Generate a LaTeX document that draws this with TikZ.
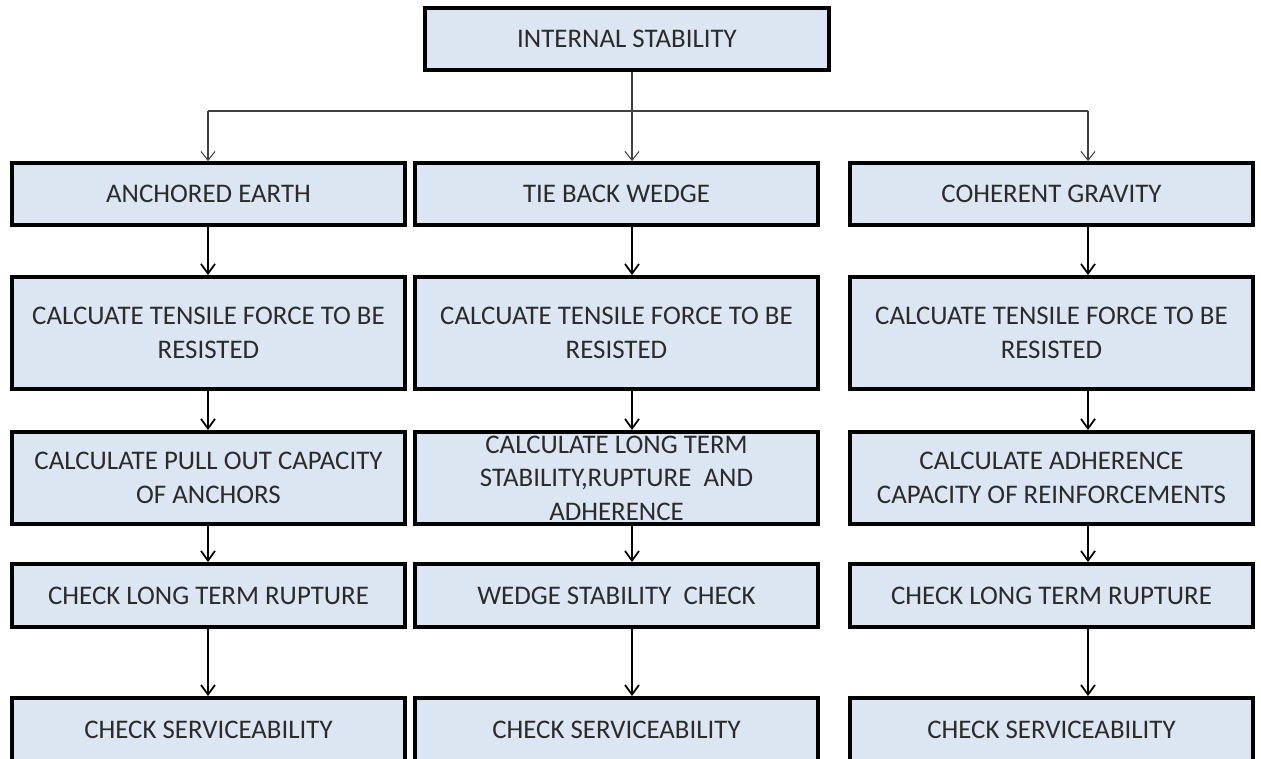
\documentclass[tikz,border=0pt]{standalone}
\usepackage{fontspec}
\setmainfont{Carlito}
\usetikzlibrary{arrows.meta}
\definecolor{boxfill}{HTML}{DCE6F2}
\definecolor{boxtext}{HTML}{2B2B2B}
\tikzstyle{stepbox} = [draw, line width=2.2pt, fill=boxfill, text=boxtext, align=center, inner sep=2pt, font=\fontsize{15.3}{19}\selectfont]
\tikzstyle{flow} = [line width=1pt, -{Straight Barb[length=5.5pt,width=8pt]}]
\tikzstyle{branch} = [line width=0.6pt, draw=black!75]

\begin{document}
\begin{tikzpicture}[x=0.02cm,y=-0.02cm]
    \useasboundingbox (0,0) rectangle (1261,759);
    \clip (0,0) rectangle (1261,759);
    \draw (627,39) node[stepbox, minimum width=8.08cm, minimum height=1.24cm] (top) {INTERNAL STABILITY};
    % left column
    \draw (208.5,194) node[stepbox, minimum width=7.86cm, minimum height=1.24cm] (l1) {ANCHORED EARTH};
    \draw (208.5,333) node[stepbox, minimum width=7.86cm, minimum height=2.24cm] (l2) {CALCUATE TENSILE FORCE TO BE\\RESISTED};
    \draw (208.5,478) node[stepbox, minimum width=7.86cm, minimum height=1.84cm] (l3) {CALCULATE PULL OUT CAPACITY\\OF ANCHORS};
    \draw (208.5,595.5) node[stepbox, minimum width=7.86cm, minimum height=1.26cm] (l4) {CHECK LONG TERM RUPTURE};
    \draw (208.5,730) node[stepbox, minimum width=7.86cm, minimum height=1.28cm] (l5) {CHECK SERVICEABILITY};
    % middle column
    \draw (616.5,194) node[stepbox, minimum width=8.06cm, minimum height=1.24cm] (m1) {TIE BACK WEDGE};
    \draw (616.5,333) node[stepbox, minimum width=8.06cm, minimum height=2.24cm] (m2) {CALCUATE TENSILE FORCE TO BE\\RESISTED};
    \draw (616.5,478) node[stepbox, minimum width=8.06cm, minimum height=1.84cm] (m3) {CALCULATE LONG TERM\\STABILITY,RUPTURE~~AND\\ADHERENCE};
    \draw (616.5,595.5) node[stepbox, minimum width=8.06cm, minimum height=1.26cm] (m4) {WEDGE STABILITY~~CHECK};
    \draw (616.5,730) node[stepbox, minimum width=8.06cm, minimum height=1.28cm] (m5) {CHECK SERVICEABILITY};
    % right column
    \draw (1051.5,194) node[stepbox, minimum width=8.06cm, minimum height=1.24cm] (r1) {COHERENT GRAVITY};
    \draw (1051.5,333) node[stepbox, minimum width=8.06cm, minimum height=2.24cm] (r2) {CALCUATE TENSILE FORCE TO BE\\RESISTED};
    \draw (1051.5,478) node[stepbox, minimum width=8.06cm, minimum height=1.84cm] (r3) {CALCULATE ADHERENCE\\CAPACITY OF REINFORCEMENTS};
    \draw (1051.5,595.5) node[stepbox, minimum width=8.06cm, minimum height=1.26cm] (r4) {CHECK LONG TERM RUPTURE};
    \draw (1051.5,730) node[stepbox, minimum width=8.06cm, minimum height=1.28cm] (r5) {CHECK SERVICEABILITY};
    % branch from the top box
    \coordinate (axL) at (208,111);
    \coordinate (axM) at (632,111);
    \coordinate (axR) at (1088,111);
    \draw [branch] (top.south -| axM) -- (axM);
    \draw [branch] (axL) -- (axR);
    \draw [branch, -{Straight Barb[length=5pt,width=8pt]}] (axL) -- (l1.north -| axL);
    \draw [branch, -{Straight Barb[length=5pt,width=8pt]}] (axM) -- (m1.north -| axM);
    \draw [branch, -{Straight Barb[length=5pt,width=8pt]}] (axR) -- (r1.north -| axR);
    % steps down each column
    \draw [flow] (l1.south -| axL) -- (l2.north -| axL);
    \draw [flow] (l2.south -| axL) -- (l3.north -| axL);
    \draw [flow] (l3.south -| axL) -- (l4.north -| axL);
    \draw [flow] (l4.south -| axL) -- (l5.north -| axL);
    \draw [flow] (m1.south -| axM) -- (m2.north -| axM);
    \draw [flow] (m2.south -| axM) -- (m3.north -| axM);
    \draw [flow] (m3.south -| axM) -- (m4.north -| axM);
    \draw [flow] (m4.south -| axM) -- (m5.north -| axM);
    \draw [flow] (r1.south -| axR) -- (r2.north -| axR);
    \draw [flow] (r2.south -| axR) -- (r3.north -| axR);
    \draw [flow] (r3.south -| axR) -- (r4.north -| axR);
    \draw [flow] (r4.south -| axR) -- (r5.north -| axR);
\end{tikzpicture}
\end{document}
